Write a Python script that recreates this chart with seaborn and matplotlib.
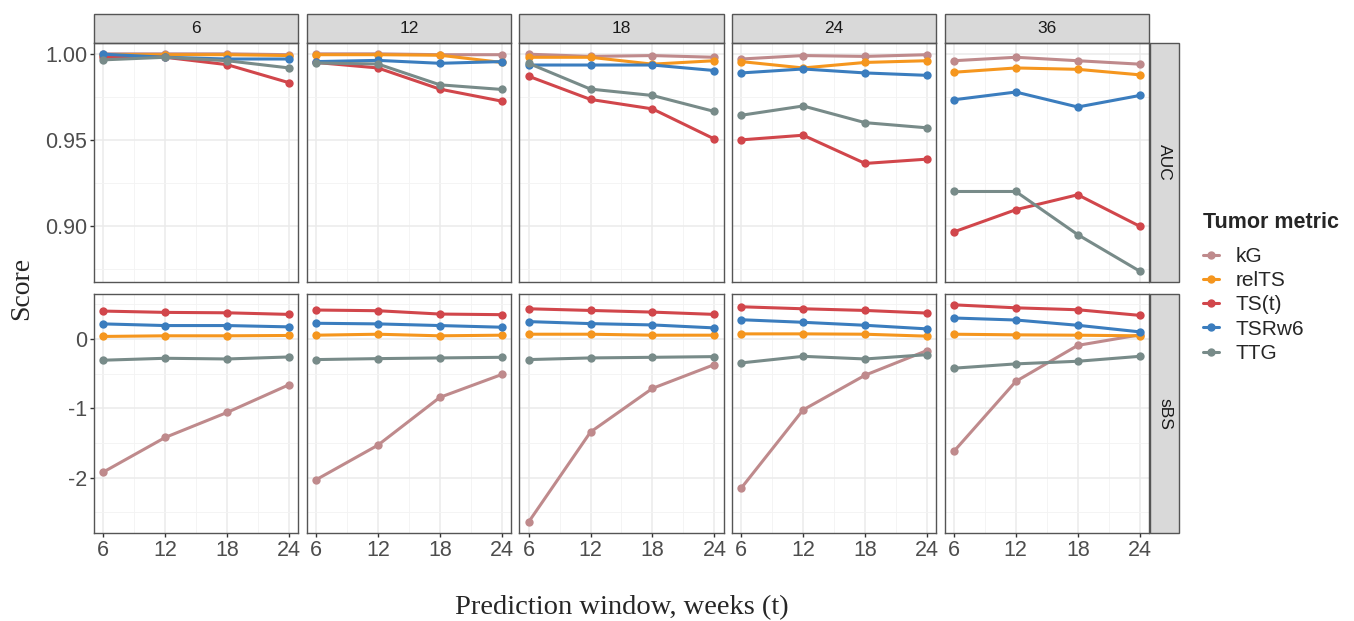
import numpy as np
import pandas as pd
import matplotlib.pyplot as plt
import seaborn as sns
from matplotlib.lines import Line2D
from matplotlib.patches import Rectangle
from matplotlib.ticker import AutoMinorLocator, FormatStrFormatter

sns.set_theme(style="whitegrid")
plt.rcParams['font.family'] = ['Liberation Sans', 'DejaVu Sans']
plt.rcParams['axes.unicode_minus'] = False

weeks = [6, 12, 18, 24]
windows = [6, 12, 18, 24, 36]
metrics = ["kG", "relTS", "TS(t)", "TSRw6", "TTG"]
colors = ["#BF8A8C", "#F5961E", "#D1464B", "#3B7DBE", "#788B89"]

# AUC: one list of 4 values (weeks 6,12,18,24) per window 6,12,18,24,36
auc_kg = [[1.000, 1.000, 1.000, 0.9995], [1.000, 1.000, 0.9995, 0.9995],
          [0.9998, 0.9985, 0.999, 0.998], [0.997, 0.999, 0.9985, 0.9995],
          [0.996, 0.998, 0.996, 0.994]]
auc_relts = [[0.9995, 0.9995, 0.9995, 0.999], [0.9995, 0.9995, 0.9992, 0.995],
             [0.998, 0.998, 0.994, 0.996], [0.9955, 0.9918, 0.995, 0.996],
             [0.9893, 0.9918, 0.991, 0.9878]]
auc_tst = [[0.998, 0.998, 0.9937, 0.9832], [0.995, 0.9918, 0.9795, 0.9725],
           [0.987, 0.9735, 0.968, 0.9505], [0.950, 0.9527, 0.9363, 0.9388],
           [0.8965, 0.9094, 0.9181, 0.8998]]
auc_tsrw6 = [[0.9998, 0.998, 0.997, 0.997], [0.9955, 0.9962, 0.9945, 0.9955],
             [0.9935, 0.9935, 0.9935, 0.9903], [0.9889, 0.9912, 0.9889, 0.9875],
             [0.9733, 0.9778, 0.9691, 0.9758]]
auc_ttg = [[0.9965, 0.998, 0.996, 0.9918], [0.9947, 0.9941, 0.982, 0.9793],
           [0.9945, 0.9795, 0.9758, 0.9665], [0.9643, 0.9697, 0.96, 0.957],
           [0.92, 0.92, 0.8949, 0.8737]]

# sBS
sbs_kg = [[-1.918, -1.418, -1.057, -0.657], [-2.03, -1.53, -0.84, -0.51],
          [-2.64, -1.34, -0.71, -0.367], [-2.15, -1.02, -0.52, -0.164],
          [-1.62, -0.61, -0.09, 0.062]]
sbs_relts = [[0.039, 0.048, 0.048, 0.053], [0.057, 0.071, 0.048, 0.057],
             [0.071, 0.071, 0.057, 0.057], [0.076, 0.076, 0.071, 0.043],
             [0.071, 0.062, 0.057, 0.048]]
sbs_tst = [[0.405, 0.386, 0.38, 0.357], [0.42, 0.41, 0.362, 0.353],
           [0.438, 0.414, 0.39, 0.357], [0.467, 0.438, 0.414, 0.376],
           [0.495, 0.452, 0.424, 0.343]]
sbs_tsrw6 = [[0.22, 0.196, 0.196, 0.177], [0.229, 0.22, 0.196, 0.172],
             [0.253, 0.224, 0.205, 0.162], [0.28, 0.243, 0.2, 0.148],
             [0.305, 0.276, 0.2, 0.105]]
sbs_ttg = [[-0.304, -0.276, -0.286, -0.257], [-0.295, -0.281, -0.271, -0.262],
           [-0.295, -0.271, -0.262, -0.252], [-0.343, -0.248, -0.286, -0.224],
           [-0.419, -0.357, -0.319, -0.248]]

auc = dict(zip(metrics, [auc_kg, auc_relts, auc_tst, auc_tsrw6, auc_ttg]))
sbs = dict(zip(metrics, [sbs_kg, sbs_relts, sbs_tst, sbs_tsrw6, sbs_ttg]))

rows = []
for measure, table in [("AUC", auc), ("sBS", sbs)]:
    for metric in metrics:
        for w, vals in zip(windows, table[metric]):
            for t, v in zip(weeks, vals):
                rows.append((measure, w, metric, t, v))
df = pd.DataFrame(rows, columns=["measure", "window", "metric", "week", "score"])

g = sns.relplot(data=df, x="week", y="score", hue="metric", hue_order=metrics,
                palette=colors, row="measure", col="window", col_order=windows,
                kind="line", marker="o", markersize=6, markeredgewidth=0,
                linewidth=2.2, legend=False, height=3, aspect=0.85,
                facet_kws=dict(sharey="row", despine=False))
g.set_titles("")
g.set_axis_labels("", "")

fig = g.figure
fig.set_size_inches(13.54, 6.21)
fig.subplots_adjust(left=0.0694, right=0.8486, top=0.9308, bottom=0.1417,
                    wspace=0.04, hspace=0.05)

nr, nc = g.axes.shape
for (i, j), ax in np.ndenumerate(g.axes):
    ax.set_facecolor("white")
    for s in ax.spines.values():
        s.set_visible(True)
        s.set_color("#555555")
        s.set_linewidth(1)
    ax.set_xticks(weeks)
    ax.set_xlim(5.1, 24.9)
    if i == 0:
        ax.set_yticks([0.90, 0.95, 1.00])
        ax.yaxis.set_major_formatter(FormatStrFormatter("%.2f"))
    else:
        ax.set_yticks([-2, -1, 0])
        ax.yaxis.set_major_formatter(FormatStrFormatter("%d"))
    ax.xaxis.set_minor_locator(AutoMinorLocator(2))
    ax.yaxis.set_minor_locator(AutoMinorLocator(2))
    ax.grid(which="major", color="#EBEBEB", linewidth=1.1)
    ax.grid(which="minor", color="#F3F3F3", linewidth=0.6)
    ax.set_axisbelow(True)
    ax.tick_params(which="major", bottom=(i == nr - 1), left=(j == 0), length=3,
                   width=1, color="#333333", labelsize=15.5, labelcolor="#4D4D4D", pad=2)
    ax.tick_params(which="minor", bottom=False, left=False)

# facet strips
for j, w in enumerate(windows):
    ax = g.axes[0, j]
    ax.add_patch(Rectangle((0, 1.0), 1, 0.122, transform=ax.transAxes, clip_on=False,
                           facecolor="#D9D9D9", edgecolor="#555555", linewidth=1))
    ax.text(0.5, 1.061, str(w), transform=ax.transAxes, ha="center", va="center",
            fontsize=12.5, color="#1A1A1A")
for i, m in enumerate(["AUC", "sBS"]):
    ax = g.axes[i, -1]
    ax.add_patch(Rectangle((1.005, 0), 0.142, 1, transform=ax.transAxes, clip_on=False,
                           facecolor="#D9D9D9", edgecolor="#555555", linewidth=1))
    ax.text(1.076, 0.5, m, transform=ax.transAxes, ha="center", va="center",
            rotation=-90, fontsize=12.5, color="#1A1A1A")

fig.text(0.016, 0.536, "Score", rotation=90, ha="center", va="center",
         fontsize=20, family="Liberation Serif")
fig.text(0.459, 0.022, "Prediction window, weeks (t)", ha="center", va="center",
         fontsize=20.5, family="Liberation Serif")

# legend
fig.text(0.8885, 0.6425, "Tumor metric", ha="left", va="center",
         fontsize=15.5, fontweight="bold")
handles = [Line2D([0], [0], color=c, lw=2.2, marker="o", markersize=5) for c in colors]
fig.legend(handles, metrics, loc="upper left",
           bbox_to_anchor=(0.8885, 0.6023), frameon=False, fontsize=15,
           handlelength=0.75, handletextpad=0.8, labelspacing=0.25,
           borderpad=0, borderaxespad=0)

fig.savefig("out.png", dpi=100)
